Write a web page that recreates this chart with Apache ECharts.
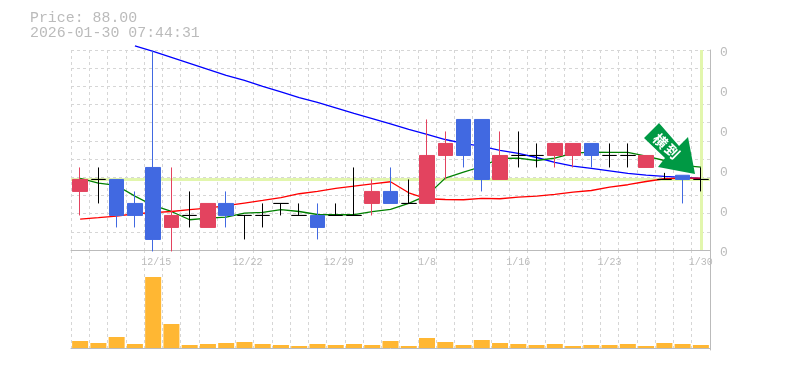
<!DOCTYPE html>
<html>
<head>
<meta charset="utf-8">
<style>
    html, body { margin: 0; padding: 0; background: #fff; }
    #chart { width: 785px; height: 370px; }
</style>
<script src="https://cdn.jsdelivr.net/npm/echarts@6/dist/echarts.min.js"></script>
</head>
<body>
<div id="chart"></div>
<script>
const dates = ['12/9', '12/10', '12/11', '12/12', '12/15', '12/16', '12/17', '12/18', '12/19', '12/22', '12/23', '12/24',
    '12/25', '12/26', '12/29', '12/30', '1/5', '1/6', '1/7', '1/8', '1/9', '1/13', '1/14', '1/15', '1/16', '1/19', '1/20',
    '1/21', '1/22', '1/23', '1/26', '1/27', '1/28', '1/29', '1/30'];
const opens = [87, 88, 88, 86, 89, 84, 85, 84, 86, 85, 85, 86, 85, 85, 85, 85, 86, 87, 86, 86, 90, 93, 93, 88, 90, 90, 90, 90, 91, 90, 90, 89, 88, 88.35, 88];
const closes = [88, 88, 85, 85, 83, 85, 85, 86, 85, 85, 85, 86, 85, 84, 85, 85, 87, 86, 86, 90, 91, 90, 88, 90, 90, 90, 91, 91, 90, 90, 90, 90, 88, 88, 88];
const lows = [85, 86, 84, 84, 82, 82, 84, 84, 84, 83, 84, 85, 85, 83, 85, 85, 85, 86, 86, 86, 88, 89, 87, 88, 89, 89, 89, 89, 89, 89, 89, 89, 88, 86, 87];
const highs = [89, 89, 88, 87, 98.75, 89, 87, 86, 87, 85, 86, 86, 86, 86, 86, 89, 88, 89, 88, 93, 92, 93, 93, 92, 92, 91, 91, 91, 91, 91, 91, 90, 88.55, 88.35, 89];
const maGreen = [88.08, 87.69, 87.5, 86.61, 85.83, 85.33, 84.64, 84.78, 84.86, 85.19, 85.25, 85.48, 85.33, 85.08, 85.06, 85.06, 85.31, 85.5,
    86.0, 86.67, 88.11, 88.61, 89.08, 89.75, 89.78, 89.58, 89.78, 90.19, 90.28, 90.25, 90.25, 89.94, 89.58, 89.17, 89.03];
const maRed = [84.69, 84.81, 84.94, 85.14, 85.23, 85.33, 85.48, 85.61, 85.81, 86.03, 86.25, 86.48, 86.81, 87.0, 87.25, 87.44, 87.64, 87.81,
    86.89, 86.39, 86.33, 86.31, 86.42, 86.39, 86.53, 86.61, 86.75, 86.94, 87.08, 87.36, 87.56, 87.83, 88.06, 88.11, 88.11];
const maBlue = [null, null, null, 99.14, 98.67, 98.17, 97.67, 97.17, 96.67, 96.25, 95.75, 95.29, 94.83, 94.42, 93.96, 93.5, 93.08, 92.63,
    92.17, 91.75, 91.33, 91.0, 90.75, 90.42, 90.17, 89.83, 89.42, 89.11, 88.92, 88.71, 88.5, 88.36, 88.25, 88.17, 88.08];
const volumes = [7, 5, 11, 4, 71, 24, 3, 4, 5, 6, 4, 3, 2, 4, 3, 4, 3, 7, 2, 10, 6, 3, 8, 5, 4, 3, 4, 2, 3, 3, 4, 2, 5, 4, 3];
const priceTickLabels = ['0', '0', '0', '0', '0', '0'];
const lastPrice = 88;
const lastDate = '1/30';
const headerText = 'Price: 88.00\n2026-01-30 07:44:31';
const arrowText = ['横', '到'];

const gridGray = '#d6d6d6';
const borderGray = '#bbbbbb';
const textGray = '#bbbbbb';
const monoFont = '"Liberation Mono", monospace';
const highlight = '#e2f6ad';

const candles = dates.map((d, i) => [opens[i], closes[i], lows[i], highs[i]]);
const dashed = { show: true, lineStyle: { color: gridGray, type: [3, 3], width: 1 } };

function maLine(data, color) {
    return {
        type: 'line',
        data,
        symbol: 'none',
        clip: false,
        z: 3,
        silent: true,
        lineStyle: { color, width: 1.3 }
    };
}

const myChart = echarts.init(document.getElementById('chart'), null, { renderer: 'canvas' });
myChart.setOption({
    animation: false,
    backgroundColor: '#fff',
    title: {
        text: headerText,
        left: 30,
        top: 11,
        padding: 0,
        textStyle: { fontFamily: monoFont, fontSize: 14.9, fontWeight: 'normal', color: textGray, lineHeight: 15 }
    },
    grid: [
        { left: 71, top: 50, width: 639, height: 200 },
        { left: 71, top: 250, width: 639, height: 100 }
    ],
    xAxis: [
        {
            type: 'category',
            gridIndex: 0,
            data: dates,
            axisTick: { show: false },
            axisLine: { lineStyle: { color: borderGray } },
            axisLabel: {
                color: textGray,
                fontFamily: monoFont,
                fontSize: 10,
                margin: 7,
                interval: (i) => i % 5 === 4,
                // 长标签在参考图里略偏右
                formatter: (v) => (v.length === 5 ? ' ' + v : v)
            },
            splitLine: Object.assign({}, dashed, { interval: 0 })
        },
        {
            type: 'category',
            gridIndex: 1,
            data: dates,
            axisTick: { show: false },
            axisLabel: { show: false },
            axisLine: { lineStyle: { color: borderGray } },
            // 参考图里这一条竖线缺失
            splitLine: Object.assign({}, dashed, { interval: (i) => i !== 8 })
        }
    ],
    yAxis: [
        {
            // 价格轴，不显示
            type: 'value',
            gridIndex: 0,
            min: 82.12,
            max: 98.79,
            show: false,
            splitLine: { show: false }
        },
        {
            // 横向虚线
            type: 'value',
            gridIndex: 0,
            min: 0,
            max: 11,
            interval: 1,
            axisLine: { show: false },
            axisTick: { show: false },
            axisLabel: { show: false },
            splitLine: dashed
        },
        {
            // 右侧刻度
            type: 'value',
            gridIndex: 0,
            position: 'right',
            min: 0,
            max: 5,
            interval: 1,
            axisLine: { show: true, lineStyle: { color: borderGray } },
            axisTick: { show: false },
            axisLabel: {
                color: textGray,
                fontFamily: monoFont,
                fontSize: 13,
                margin: 10,
                verticalAlign: 'top',
                lineHeight: 6,
                formatter: (v) => priceTickLabels[v]
            },
            splitLine: { show: false }
        },
        {
            type: 'value',
            gridIndex: 1,
            position: 'right',
            min: -2,
            max: 98,
            axisLine: { show: true, lineStyle: { color: borderGray } },
            axisTick: { show: false },
            axisLabel: { show: false },
            splitLine: { show: false }
        }
    ],
    series: [
        {
            // 高亮线放在最底层
            type: 'line',
            data: [],
            xAxisIndex: 0,
            yAxisIndex: 0,
            z: 1,
            silent: true,
            markLine: {
                silent: true,
                z: 1,
                symbol: 'none',
                label: { show: false },
                lineStyle: { color: highlight, type: 'solid', width: 3 },
                data: [{ yAxis: lastPrice }, { xAxis: lastDate }]
            }
        },
        maLine(maBlue, '#0000ff'),
        maLine(maGreen, '#008000'),
        maLine(maRed, '#ff0000'),
        {
            type: 'candlestick',
            data: candles,
            barWidth: 15,
            z: 4,
            silent: true,
            itemStyle: {
                color: '#e3435f',
                color0: '#4169e1',
                borderColor: '#e3435f',
                borderColor0: '#4169e1',
                borderColorDoji: '#000000',
                borderWidth: 1
            }
        },
        {
            type: 'bar',
            data: volumes,
            xAxisIndex: 1,
            yAxisIndex: 3,
            barWidth: 16,
            silent: true,
            itemStyle: { color: '#ffb733' }
        }
    ],
    graphic: [
        {
            type: 'polygon',
            z: 100,
            shape: {
                points: [[659, 123], [644, 138], [665, 158], [658, 167], [695, 174], [688, 137], [679, 146]]
            },
            style: { fill: '#009944' }
        },
        {
            type: 'text',
            z: 101,
            x: 660.5,
            y: 141,
            rotation: -Math.PI / 4,
            style: { text: arrowText[0], fill: '#fff', font: 'bold 14px "Noto Sans CJK JP"', align: 'center', verticalAlign: 'middle' }
        },
        {
            type: 'text',
            z: 101,
            x: 672.5,
            y: 151.5,
            rotation: -Math.PI / 4,
            style: { text: arrowText[1], fill: '#fff', font: 'bold 14px "Noto Sans CJK JP"', align: 'center', verticalAlign: 'middle' }
        }
    ]
});
</script>
</body>
</html>
